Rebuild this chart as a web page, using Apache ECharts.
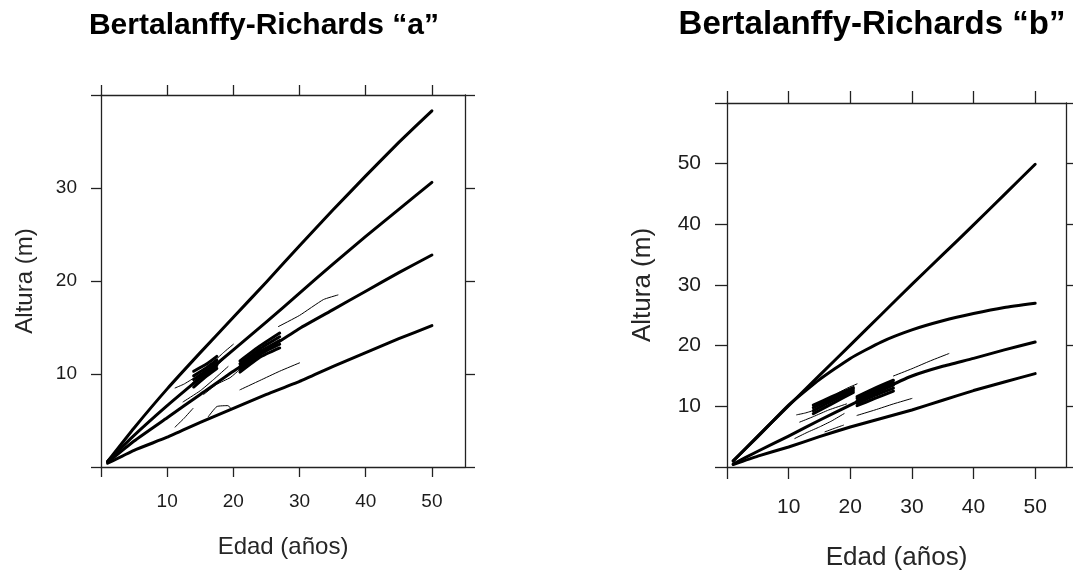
<!DOCTYPE html>
<html>
<head>
<meta charset="utf-8">
<title>Bertalanffy-Richards</title>
<script src="https://cdn.jsdelivr.net/npm/echarts@6/dist/echarts.min.js"></script>
<style>
  html, body { margin: 0; padding: 0; background: #fff; }
  #chart { width: 1073px; height: 576px; }
</style>
</head>
<body>
<div id="chart"></div>
<script>
// edades (años) en las que se leen las curvas ajustadas
const edad = [1, 5, 10, 15, 20, 25, 30, 35, 40, 45, 50];

// modelo "a": cuatro curvas de índice de sitio
const curvaA1 = [0.6, 4.2, 8.4, 12.3, 16.1, 19.9, 23.8, 27.6, 31.3, 34.9, 38.3];
const curvaA2 = [0.6, 3.4, 6.6, 9.6, 12.6, 15.6, 18.7, 21.8, 24.8, 27.7, 30.6];
const curvaA3 = [0.5, 2.8, 5.3, 7.8, 10.3, 12.6, 14.9, 16.9, 18.9, 20.9, 22.8];
const curvaA4 = [0.4, 1.8, 3.2, 4.8, 6.3, 7.8, 9.2, 10.8, 12.3, 13.8, 15.2];

// modelo "b"
const curvaB1 = [1.0, 5.1, 10.1, 15.1, 20.1, 25.1, 30.1, 35.0, 39.9, 44.9, 49.9];
const curvaB2 = [1.0, 5.0, 10.2, 14.4, 17.9, 20.6, 22.6, 24.1, 25.3, 26.3, 27.0];
const curvaB3 = [0.5, 2.6, 5.1, 7.7, 10.2, 12.7, 15.0, 16.6, 17.9, 19.3, 20.6];
const curvaB4 = [0.4, 1.8, 3.3, 5.0, 6.6, 8.0, 9.4, 11.0, 12.6, 14.0, 15.4];

// trazos observados (edad, altura), panel "a"
const obsA = [
  [[26.8, 15.1], [30, 16.3], [33.6, 18.0], [35.8, 18.5]],
  [[21, 8.3], [24, 9.3], [27, 10.3], [30, 11.2]],
  [[11.2, 8.5], [12.5, 8.9], [13.9, 9.5]],
  [[11.2, 4.3], [12.5, 5.2], [13.9, 6.3]],
  [[16.2, 5.4], [17.5, 6.5], [19.2, 6.6], [19.6, 6.3]],
  [[12.4, 7.0], [15, 8.2], [17, 9.4], [19.2, 10.8]],
  [[15.5, 7.8], [17.5, 8.9], [19.5, 9.6], [21, 10.5]],
  [[17, 10.5], [18.5, 11.6], [20, 12.6]],
  [[17, 11.3], [18.5, 12.3], [20, 13.2]]
];
// trazos densos (muchas observaciones superpuestas), panel "a"
const densoA = [
  [[21, 10.2], [24, 11.8], [27, 12.8]],
  [[21, 10.5], [24, 12.1], [27, 13.2]],
  [[21, 10.8], [24, 12.4], [27, 13.6]],
  [[21, 11.1], [24, 12.7], [27, 14.0]],
  [[21, 11.4], [24, 13.0], [27, 14.4]],
  [[14, 8.6], [16, 9.8], [17.5, 10.6]],
  [[14, 9.0], [16, 10.1], [17.5, 10.9]],
  [[14, 9.4], [16, 10.4], [17.5, 11.2]],
  [[14, 9.8], [16, 10.7], [17.5, 11.5]],
  [[14, 10.3], [16, 11.1], [17.5, 11.9]]
];

// trazos observados, panel "b"
const obsB = [
  [[27, 15.0], [30, 16.2], [33, 17.5], [36, 18.7]],
  [[21.1, 8.5], [24, 9.4], [27, 10.4], [30, 11.3]],
  [[11.3, 8.6], [12.7, 8.9], [14, 9.3]],
  [[11.8, 7.4], [14, 8.3], [16.5, 9.4], [19.4, 10.4]],
  [[11, 4.7], [13, 5.7], [15, 6.6], [17, 7.6], [19, 8.8]],
  [[15.9, 5.8], [17.5, 6.4], [18.9, 6.9]],
  [[18, 12.2], [19.5, 13.0], [21.1, 13.7]]
];
const densoB = [
  [[21.1, 10.1], [24, 11.3], [27, 12.5]],
  [[21.1, 10.5], [24, 11.8], [27, 13.0]],
  [[21.1, 10.9], [24, 12.2], [27, 13.5]],
  [[21.1, 11.3], [24, 12.6], [27, 13.9]],
  [[21.1, 11.6], [24, 13.0], [27, 14.3]],
  [[14, 8.8], [17, 10.4], [20.5, 12.3]],
  [[14, 9.3], [17, 10.9], [20.5, 12.6]],
  [[14, 9.8], [17, 11.3], [20.5, 12.9]],
  [[14, 10.2], [17, 11.6], [20.5, 13.1]]
];

// marcas y etiquetas de los ejes
const xTicks = [0, 10, 20, 30, 40, 50];
const xLabels = [10, 20, 30, 40, 50];
const yTicksA = [0, 10, 20, 30, 40];
const yLabelsA = [10, 20, 30];
const yTicksB = [0, 10, 20, 30, 40, 50, 60];
const yLabelsB = [10, 20, 30, 40, 50];

const FONT = '"Liberation Sans", Arial, sans-serif';
const AXIS = '#222';

function ejeX(gridIndex, position, o) {
  const bottom = position === 'bottom';
  return {
    type: 'value', gridIndex, position, min: 0, max: 55,
    axisLine: { show: true, onZero: false, lineStyle: { color: AXIS, width: 1.3 } },
    axisTick: { show: true, inside: false, length: o.tick, customValues: xTicks, lineStyle: { color: AXIS, width: 1.3 } },
    axisLabel: { show: bottom, customValues: xLabels, margin: o.margin, fontSize: o.fs, color: '#1c1c1c', fontFamily: FONT },
    splitLine: { show: false },
    name: bottom ? 'Edad (años)' : '',
    nameLocation: 'middle', nameGap: o.nameGap,
    nameTextStyle: { fontSize: o.nameFs, color: '#262626', fontFamily: FONT }
  };
}

function ejeY(gridIndex, position, max, ticks, labels, o) {
  const left = position === 'left';
  return {
    type: 'value', gridIndex, position, min: 0, max,
    axisLine: { show: true, onZero: false, lineStyle: { color: AXIS, width: 1.3 } },
    axisTick: { show: true, inside: false, length: o.tick, customValues: ticks, lineStyle: { color: AXIS, width: 1.3 } },
    axisLabel: { show: left, customValues: labels, margin: o.margin, fontSize: o.fs, color: '#1c1c1c', fontFamily: FONT },
    splitLine: { show: false },
    name: left ? 'Altura (m)' : '',
    nameLocation: 'middle', nameGap: o.nameGap,
    nameTextStyle: { fontSize: o.nameFs, color: '#262626', fontFamily: FONT }
  };
}

function linea(data, xi, yi, width) {
  return {
    type: 'line', xAxisIndex: xi, yAxisIndex: yi, data,
    symbol: 'none', silent: true, smooth: 0.15,
    lineStyle: { color: '#000', width, cap: 'round', join: 'round' }
  };
}

const pares = (ys) => edad.map((x, i) => [x, ys[i]]);

const optsA = { tick: 10, margin: 25, fs: 19, nameGap: 68, nameFs: 24 };
const optsAy = { tick: 10, margin: 24, fs: 19, nameGap: 64, nameFs: 24 };
const optsB = { tick: 12, margin: 30, fs: 21, nameGap: 78, nameFs: 26 };
const optsBy = { tick: 12, margin: 26, fs: 21, nameGap: 71, nameFs: 26 };

const series = [];
obsA.forEach(d => series.push(linea(d, 0, 0, 1)));
densoA.forEach(d => series.push(linea(d, 0, 0, 3)));
[curvaA1, curvaA2, curvaA3, curvaA4].forEach(c => series.push(linea(pares(c), 0, 0, 3)));
obsB.forEach(d => series.push(linea(d, 2, 2, 1)));
densoB.forEach(d => series.push(linea(d, 2, 2, 3)));
[curvaB1, curvaB2, curvaB3, curvaB4].forEach(c => series.push(linea(pares(c), 2, 2, 3)));

const chart = echarts.init(document.getElementById('chart'));
chart.setOption({
  animation: false,
  backgroundColor: '#fff',
  graphic: [
    { type: 'text', x: 264, y: 26, style: { text: 'Bertalanffy-Richards “a”', font: 'bold 30px ' + FONT, fill: '#000', align: 'center', verticalAlign: 'middle' } },
    { type: 'text', x: 872, y: 25, style: { text: 'Bertalanffy-Richards “b”', font: 'bold 33px ' + FONT, fill: '#000', align: 'center', verticalAlign: 'middle' } }
  ],
  grid: [
    { left: 101, top: 95, width: 364, height: 372 },
    { left: 727, top: 103, width: 339, height: 369 }
  ],
  xAxis: [
    ejeX(0, 'bottom', optsA),
    ejeX(0, 'top', optsA),
    ejeX(1, 'bottom', optsB),
    ejeX(1, 'top', optsB)
  ],
  yAxis: [
    ejeY(0, 'left', 40, yTicksA, yLabelsA, optsAy),
    ejeY(0, 'right', 40, yTicksA, yLabelsA, optsAy),
    ejeY(1, 'left', 60, yTicksB, yLabelsB, optsBy),
    ejeY(1, 'right', 60, yTicksB, yLabelsB, optsBy)
  ],
  series
});
window.addEventListener('resize', () => chart.resize());
</script>
</body>
</html>
